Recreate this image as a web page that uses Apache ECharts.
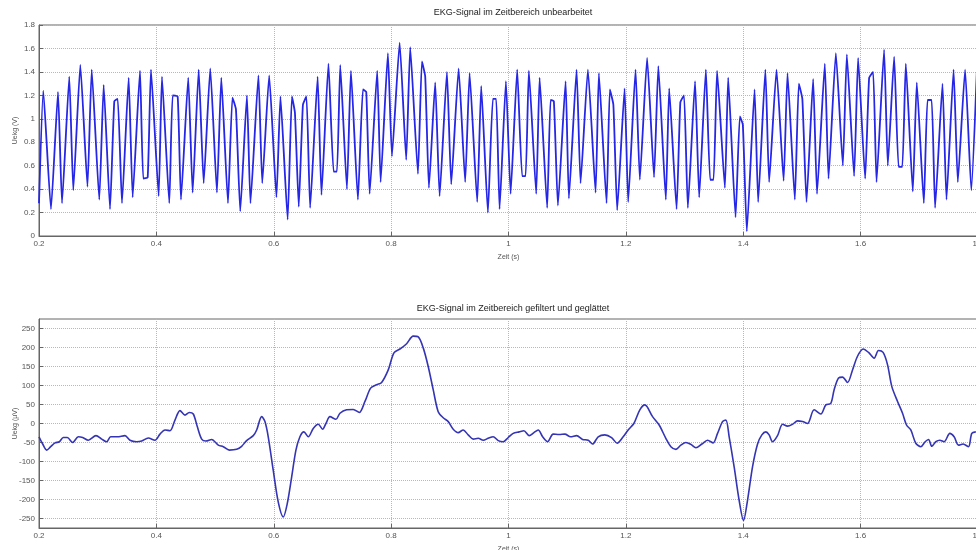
<!DOCTYPE html>
<html>
<head>
<meta charset="utf-8">
<title>EKG-Signal</title>
<script src="https://cdn.jsdelivr.net/npm/echarts@6/dist/echarts.min.js"></script>
<style>
	html, body { margin: 0; padding: 0; background: #fff; }
	#chart { width: 976px; height: 550px; }
</style>
</head>
<body>
<div id="chart"></div>
<script>
const rawTime = [
	0.2, 0.2073, 0.2204, 0.2324, 0.2392, 0.2516, 0.2584, 0.2704, 0.2826, 0.2898,
	0.3027, 0.3102, 0.321, 0.3283, 0.3341, 0.3414, 0.3528, 0.3596, 0.3721, 0.3777,
	0.3852, 0.3908, 0.4039, 0.4095, 0.422, 0.4278, 0.4363, 0.4419, 0.4543, 0.4618,
	0.4721, 0.4806, 0.4918, 0.5032, 0.5106, 0.522, 0.5296, 0.5356, 0.5429, 0.5543,
	0.5603, 0.5739, 0.5804, 0.5922, 0.6046, 0.6114, 0.6237, 0.631, 0.6361, 0.6426,
	0.6497, 0.6557, 0.662, 0.6748, 0.6813, 0.6932, 0.702, 0.7077, 0.7133, 0.7247,
	0.7315, 0.7434, 0.752, 0.7576, 0.7634, 0.7763, 0.7821, 0.7945, 0.8014, 0.8145,
	0.8257, 0.8325, 0.8457, 0.8525, 0.8581, 0.8644, 0.8751, 0.8826, 0.8951, 0.9024,
	0.915, 0.9262, 0.9337, 0.9467, 0.9535, 0.9649, 0.9734, 0.979, 0.9848, 0.9956,
	1.0036, 1.0148, 1.0233, 1.0291, 1.0347, 1.0472, 1.053, 1.0659, 1.0717, 1.0773,
	1.0842, 1.0973, 1.1029, 1.116, 1.1228, 1.1353, 1.1484, 1.154, 1.1671, 1.1727,
	1.1787, 1.1852, 1.1978, 1.2039, 1.2165, 1.2238, 1.2362, 1.248, 1.2553, 1.2681,
	1.2738, 1.2864, 1.2928, 1.2991, 1.3056, 1.3179, 1.3249, 1.3363, 1.3436, 1.3494,
	1.3554, 1.3687, 1.3743, 1.3869, 1.3942, 1.3993, 1.4061, 1.4193, 1.4254, 1.4377,
	1.4441, 1.4567, 1.4688, 1.4754, 1.4879, 1.4947, 1.5007, 1.5078, 1.5191, 1.5257,
	1.539, 1.5453, 1.5578, 1.5697, 1.5765, 1.5889, 1.5957, 1.6077, 1.6145, 1.6213,
	1.6271, 1.64, 1.6463, 1.6571, 1.6647, 1.671, 1.677, 1.6889, 1.6957, 1.7077,
	1.714, 1.721, 1.7269, 1.7395, 1.7463, 1.7584, 1.7656, 1.778, 1.7886, 1.798
];
const rawValue = [
	0.28, 1.24, 0.23, 1.23, 0.28, 1.36, 0.39, 1.46, 0.42, 1.42,
	0.31, 1.29, 0.23, 1.15, 1.17, 0.28, 1.35, 0.33, 1.41, 0.49,
	0.50, 1.42, 0.34, 1.36, 0.28, 1.20, 1.19, 0.31, 1.35, 0.37,
	1.42, 0.45, 1.43, 0.37, 1.35, 0.28, 1.18, 1.08, 0.21, 1.20,
	0.28, 1.37, 0.45, 1.37, 0.33, 1.19, 0.14, 1.19, 1.05, 0.25,
	1.12, 1.19, 0.24, 1.36, 0.35, 1.47, 0.55, 0.55, 1.46, 0.40,
	1.41, 0.31, 1.25, 1.23, 0.36, 1.41, 0.46, 1.56, 0.68, 1.65,
	0.65, 1.61, 0.53, 1.49, 1.36, 0.41, 1.31, 0.34, 1.40, 0.44,
	1.43, 0.46, 1.39, 0.29, 1.28, 0.20, 1.17, 1.17, 0.23, 1.32,
	0.36, 1.42, 0.51, 0.51, 1.41, 0.36, 1.35, 0.24, 1.16, 1.15,
	0.26, 1.32, 0.32, 1.42, 0.45, 1.42, 0.37, 1.39, 0.28, 1.25,
	1.12, 0.22, 1.26, 0.29, 1.42, 0.48, 1.52, 0.50, 1.45, 0.31,
	1.26, 0.23, 1.14, 1.20, 0.24, 1.32, 0.33, 1.42, 0.48, 0.48,
	1.41, 0.41, 1.35, 0.16, 1.02, 0.95, 0.04, 1.25, 0.29, 1.42,
	0.46, 1.42, 0.47, 1.39, 0.31, 1.30, 1.17, 0.29, 1.34, 0.36,
	1.47, 0.49, 1.56, 0.60, 1.55, 0.51, 1.52, 0.49, 1.35, 1.40,
	0.46, 1.59, 0.60, 1.53, 0.59, 0.59, 1.47, 0.38, 1.31, 0.28,
	1.16, 1.16, 0.24, 1.30, 0.31, 1.42, 0.46, 1.42, 0.39, 1.40
];

// gefiltertes Signal (µV)
const filtTime = [
	0.2, 0.2063, 0.2131, 0.2199, 0.2273, 0.2346, 0.2414, 0.2482, 0.2574, 0.267,
	0.2744, 0.284, 0.2971, 0.3068, 0.3153, 0.3221, 0.3334, 0.3465, 0.355, 0.3664,
	0.375, 0.3862, 0.3976, 0.4061, 0.4147, 0.4232, 0.4317, 0.4402, 0.4487, 0.456,
	0.4629, 0.4697, 0.4772, 0.4845, 0.4942, 0.5055, 0.514, 0.5242, 0.5368, 0.5453,
	0.5538, 0.5651, 0.5709, 0.5794, 0.585, 0.5906, 0.5991, 0.6077, 0.6162, 0.623,
	0.6305, 0.6378, 0.6446, 0.6514, 0.6588, 0.6673, 0.6758, 0.6833, 0.6889, 0.6957,
	0.706, 0.7128, 0.7242, 0.7354, 0.7457, 0.7554, 0.7651, 0.7753, 0.7838, 0.7951,
	0.8048, 0.815, 0.8264, 0.8376, 0.8462, 0.8547, 0.8632, 0.8717, 0.8802, 0.8888,
	0.8973, 0.9058, 0.9143, 0.9228, 0.9313, 0.9399, 0.9484, 0.9569, 0.9654, 0.9739,
	0.9825, 0.991, 0.9995, 1.008, 1.0182, 1.0262, 1.0353, 1.0433, 1.0506, 1.0581,
	1.0666, 1.0761, 1.0864, 1.0961, 1.1058, 1.116, 1.1262, 1.1358, 1.1433, 1.1528,
	1.1642, 1.1756, 1.1852, 1.1954, 1.2039, 1.2136, 1.2238, 1.2324, 1.2455, 1.2567,
	1.2681, 1.2767, 1.2852, 1.2937, 1.3022, 1.3107, 1.3193, 1.3295, 1.3392, 1.3487,
	1.3562, 1.3647, 1.3704, 1.376, 1.3845, 1.393, 1.4005, 1.4073, 1.4158, 1.4244,
	1.4317, 1.4385, 1.4441, 1.4499, 1.4584, 1.467, 1.4755, 1.484, 1.4925, 1.501,
	1.5095, 1.5208, 1.5322, 1.5407, 1.5492, 1.5549, 1.5624, 1.5692, 1.5777, 1.5862,
	1.5947, 1.6043, 1.6135, 1.623, 1.6305, 1.6383, 1.6458, 1.6532, 1.6629, 1.6714,
	1.6782, 1.6855, 1.694, 1.7026, 1.7099, 1.7157, 1.7213, 1.7281, 1.7349, 1.7422,
	1.752, 1.7593, 1.7668, 1.7746, 1.7838, 1.7894, 1.7963
];
const filtValue = [
	-35, -54, -70, -61, -51, -48, -37, -37, -50, -35,
	-37, -44, -32, -41, -48, -35, -35, -32, -44, -48,
	-46, -38, -44, -28, -17, -19, 9, 34, 22, 29,
	25, -8, -41, -46, -42, -57, -61, -70, -68, -60,
	-45, -32, -17, 18, 5, -35, -123, -207, -246, -211,
	-141, -70, -35, -22, -35, -13, -2, -15, 0, 18,
	11, 27, 36, 37, 29, 58, 93, 102, 108, 141,
	186, 196, 210, 230, 228, 199, 150, 89, 31, 15,
	5, -15, -24, -17, -30, -41, -39, -44, -39, -35,
	-45, -48, -37, -26, -22, -19, -32, -24, -17, -35,
	-48, -28, -29, -28, -35, -32, -42, -44, -54, -35,
	-30, -37, -52, -35, -17, 0, 36, 49, 18, -4,
	-39, -61, -68, -57, -50, -55, -64, -54, -44, -51,
	-26, 5, 9, -35, -114, -202, -255, -202, -114, -54,
	-30, -22, -30, -48, -32, -2, -7, -2, 7, 5,
	0, 36, 25, 49, 53, 89, 120, 122, 108, 141,
	177, 196, 187, 172, 192, 187, 155, 97, 58, 27,
	-4, -17, -52, -61, -48, -42, -60, -48, -44, -48,
	-26, -35, -57, -54, -61, -26, -22
];

const bottomYTicks = [-250, -200, -150, -100, -50, 0, 50, 100, 150, 200, 250];

const chartDom = document.getElementById("chart");
const myChart = echarts.init(chartDom, null, { renderer: "canvas" });

const labelStyle = { fontSize: 8, color: "#555", fontFamily: "Liberation Sans" };
const gridLine = { show: true, lineStyle: { color: "#b8b8b8", type: "dotted", width: 1 } };

const fmtTime = v => {
	let s = v.toFixed(1);
	return s.endsWith(".0") ? s.slice(0, -2) : s;
};

const makeXAxis = gridIndex => ({
	type: "value",
	gridIndex: gridIndex,
	min: 0.2,
	max: 1.8,
	interval: 0.2,
	name: "Zeit (s)",
	nameLocation: "middle",
	nameGap: 18,
	nameMoveOverlap: false,
	nameTextStyle: { fontSize: 7, color: "#555", fontFamily: "Liberation Sans" },
	axisLine: { show: true, onZero: false, lineStyle: { color: "#666", width: 1 } },
	axisTick: { show: true, inside: true, length: 4, lineStyle: { color: "#666" } },
	axisLabel: Object.assign({ margin: 4, formatter: fmtTime }, labelStyle),
	splitLine: gridLine
});

const option = {
	animation: false,
	backgroundColor: "#fff",
	title: [
		{
			text: "EKG-Signal im Zeitbereich unbearbeitet",
			left: 508,
			top: 3,
			textAlign: "center",
			textStyle: { fontSize: 9, fontWeight: "normal", color: "#222", fontFamily: "Liberation Sans" }
		},
		{
			text: "EKG-Signal im Zeitbereich gefiltert und geglättet",
			left: 508,
			top: 299,
			textAlign: "center",
			textStyle: { fontSize: 9, fontWeight: "normal", color: "#222", fontFamily: "Liberation Sans" }
		}
	],
	grid: [
		{ left: 39, right: -2, top: 25, height: 211, outerBoundsMode: "none", containLabel: false, show: true, borderColor: "#666", borderWidth: 1, backgroundColor: "#fff" },
		{ left: 39, right: -2, top: 319, height: 209, outerBoundsMode: "none", containLabel: false, show: true, borderColor: "#666", borderWidth: 1, backgroundColor: "#fff" }
	],
	xAxis: [makeXAxis(0), makeXAxis(1)],
	yAxis: [
		{
			type: "value",
			gridIndex: 0,
			min: 0,
			max: 1.8,
			interval: 0.2,
			name: "Uekg (V)",
			nameLocation: "middle",
			nameGap: 20,
			nameMoveOverlap: false,
			nameTextStyle: { fontSize: 7, color: "#555", fontFamily: "Liberation Sans" },
			axisLine: { show: true, lineStyle: { color: "#666", width: 1 } },
			axisTick: { show: true, inside: true, length: 4, lineStyle: { color: "#666" } },
			axisLabel: Object.assign({ margin: 4, formatter: v => String(Math.round(v * 10) / 10) }, labelStyle),
			splitLine: gridLine
		},
		{
			type: "value",
			gridIndex: 1,
			min: -275,
			max: 275,
			name: "Uekg (µV)",
			nameLocation: "middle",
			nameGap: 20,
			nameMoveOverlap: false,
			nameTextStyle: { fontSize: 7, color: "#555", fontFamily: "Liberation Sans" },
			axisLine: { show: true, lineStyle: { color: "#666", width: 1 } },
			axisTick: { show: true, inside: true, length: 4, customValues: bottomYTicks, lineStyle: { color: "#666" } },
			axisLabel: Object.assign({ margin: 4, customValues: bottomYTicks }, labelStyle),
			splitLine: gridLine
		}
	],
	series: [
		{
			type: "line",
			xAxisIndex: 0,
			yAxisIndex: 0,
			showSymbol: false,
			smooth: 0.15,
			lineStyle: { color: "#2626e6", width: 1.8 },
			data: rawTime.map((t, i) => [t, rawValue[i]])
		},
		{
			type: "line",
			xAxisIndex: 1,
			yAxisIndex: 1,
			showSymbol: false,
			smooth: 0.3,
			lineStyle: { color: "#3434b4", width: 1.6 },
			data: filtTime.map((t, i) => [t, filtValue[i]])
		}
	]
};

myChart.setOption(option);
</script>
</body>
</html>
